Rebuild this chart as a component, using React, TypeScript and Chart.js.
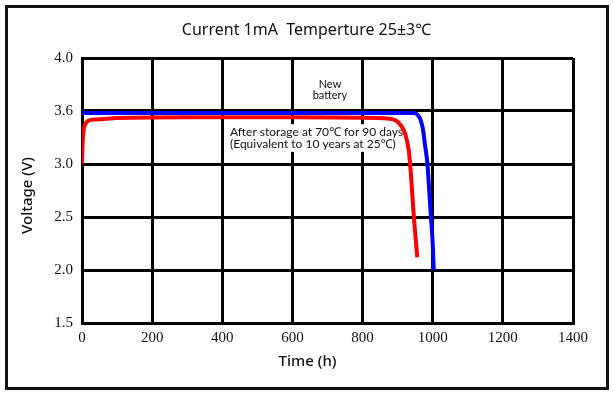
import React, { useEffect, useRef } from "react";
import { Chart, registerables } from "chart.js";

Chart.register(...registerables);

const chartTitle = "Current 1mA  Temperture 25\u00B13\u2103";
const xAxisTitle = "Time (h)";
const yAxisTitle = "Voltage (V)";

const yTickValues = [1.5, 2.0, 2.5, 3.0, 3.5, 4.0];
const yTickLabels = ["1.5", "2.0", "2.5", "3.0", "3.6", "4.0"];

const newHours = [0, 100, 300, 500, 700, 900, 945, 958, 966, 972, 978, 985, 990, 995, 1000, 1003];
const newVolts = [3.48, 3.48, 3.48, 3.48, 3.48, 3.48, 3.48, 3.46, 3.41, 3.33, 3.18, 3.0, 2.75, 2.5, 2.25, 2.0];

const storedHours = [0, 2, 5, 10, 20, 40, 80, 300, 600, 870, 895, 910, 922, 932, 938, 944, 950, 956];
const storedVolts = [3.0, 3.22, 3.33, 3.38, 3.41, 3.42, 3.43, 3.44, 3.44, 3.43, 3.41, 3.36, 3.28, 3.12, 2.9, 2.6, 2.35, 2.12];

const newLabel = ["New", "battery"];
const storedLabel = ["After storage at 70\u2103 for 90 days", "(Equivalent to 10 years at 25\u2103)"];

const sansFont = "'Noto Sans', 'DejaVu Sans', sans-serif";
const narrowFont = "Lato, 'Noto Sans', 'DejaVu Sans', sans-serif";
const serifFont = "'Liberation Serif', 'DejaVu Serif', serif";

const textPlugin = {
  id: "textPlugin",
  beforeDatasetsDraw(chart: any) {
    const { ctx } = chart;
    const xs = chart.scales.x;
    const ys = chart.scales.y;
    ctx.save();
    ctx.font = `12px ${narrowFont}`;
    const lx = xs.getPixelForValue(422);
    const y1 = ys.getPixelForValue(3.3);
    const y2 = ys.getPixelForValue(3.19);
    const w = Math.max(ctx.measureText(storedLabel[0]).width, ctx.measureText(storedLabel[1]).width);
    ctx.fillStyle = "#ffffff";
    ctx.fillRect(lx - 3, y1 - 8, w + 5, y2 - y1 + 16);
    ctx.fillStyle = "#111";
    ctx.textAlign = "left";
    ctx.textBaseline = "middle";
    ctx.fillText(storedLabel[0], lx, y1);
    ctx.fillText(storedLabel[1], lx, y2);
    ctx.font = `11px ${narrowFont}`;
    ctx.textAlign = "center";
    const nx = xs.getPixelForValue(707);
    ctx.fillText(newLabel[0], nx, ys.getPixelForValue(3.75));
    ctx.fillText(newLabel[1], nx, ys.getPixelForValue(3.645));
    ctx.restore();
  },
  afterDraw(chart: any) {
    const { ctx, chartArea } = chart;
    ctx.save();
    ctx.fillStyle = "#111";
    ctx.textAlign = "center";
    ctx.textBaseline = "middle";
    ctx.font = `16px ${sansFont}`;
    ctx.fillText(chartTitle, (chartArea.left + chartArea.right) / 2 - 21, 30);
    ctx.font = `500 15px ${sansFont}`;
    ctx.fillText(xAxisTitle, (chartArea.left + chartArea.right) / 2 - 20, chartArea.bottom + 39);
    ctx.translate(28, (chartArea.top + chartArea.bottom) / 2 + 5);
    ctx.rotate(-Math.PI / 2);
    ctx.fillText(yAxisTitle, 0, 0);
    ctx.restore();
  },
};

export default function App() {
  const canvasRef = useRef<HTMLCanvasElement | null>(null);

  useEffect(() => {
    const canvas = canvasRef.current;
    if (!canvas) return;
    const chart = new Chart(canvas, {
      type: "line",
      data: {
        datasets: [
          {
            label: "New battery",
            data: newHours.map((h, i) => ({ x: h, y: newVolts[i] })),
            borderColor: "rgb(0,0,255)",
            borderWidth: 4,
            pointRadius: 0,
            cubicInterpolationMode: "monotone",
            fill: false,
          },
          {
            label: "After storage",
            data: storedHours.map((h, i) => ({ x: h, y: storedVolts[i] })),
            borderColor: "rgb(255,0,0)",
            borderWidth: 4,
            pointRadius: 0,
            cubicInterpolationMode: "monotone",
            fill: false,
          },
        ],
      },
      options: {
        animation: false,
        responsive: false,
        devicePixelRatio: 1,
        layout: { padding: { top: 58, right: 40, left: 0, bottom: 0 } },
        plugins: { legend: { display: false }, tooltip: { enabled: false }, title: { display: false } },
        scales: {
          x: {
            type: "linear",
            min: 0,
            max: 1400,
            afterFit: (s: any) => {
              s.height = 70;
            },
            ticks: {
              stepSize: 200,
              color: "#111",
              padding: 6,
              font: { family: serifFont, size: 15 },
              maxRotation: 0,
              callback: (v: any) => String(v),
            },
            grid: { color: "#000", lineWidth: 3, drawTicks: false },
            border: { color: "#000", width: 3 },
          },
          y: {
            type: "linear",
            min: 1.5,
            max: 4.0,
            afterFit: (s: any) => {
              s.width = 82;
            },
            afterBuildTicks: (s: any) => {
              s.ticks = yTickValues.map((v) => ({ value: v }));
            },
            ticks: {
              color: "#111",
              padding: 9,
              font: { family: serifFont, size: 15 },
              callback: (v: any) => {
                const i = yTickValues.findIndex((t) => Math.abs(t - Number(v)) < 1e-6);
                return i >= 0 ? yTickLabels[i] : "";
              },
            },
            grid: { color: "#000", lineWidth: 3, drawTicks: false },
            border: { color: "#000", width: 3 },
          },
        },
      },
      plugins: [textPlugin],
    } as any);
    return () => chart.destroy();
  }, []);

  return (
    <div style={{ position: "fixed", left: 0, top: 0, width: 613, height: 393, background: "#fff" }}>
      <canvas ref={canvasRef} width={613} height={393} style={{ position: "absolute", left: 0, top: 0, width: 613, height: 393 }} />
      <div
        style={{
          position: "absolute",
          left: 5,
          top: 5,
          width: 604,
          height: 385,
          border: "3px solid #111",
          boxSizing: "border-box",
          pointerEvents: "none",
        }}
      />
    </div>
  );
}
